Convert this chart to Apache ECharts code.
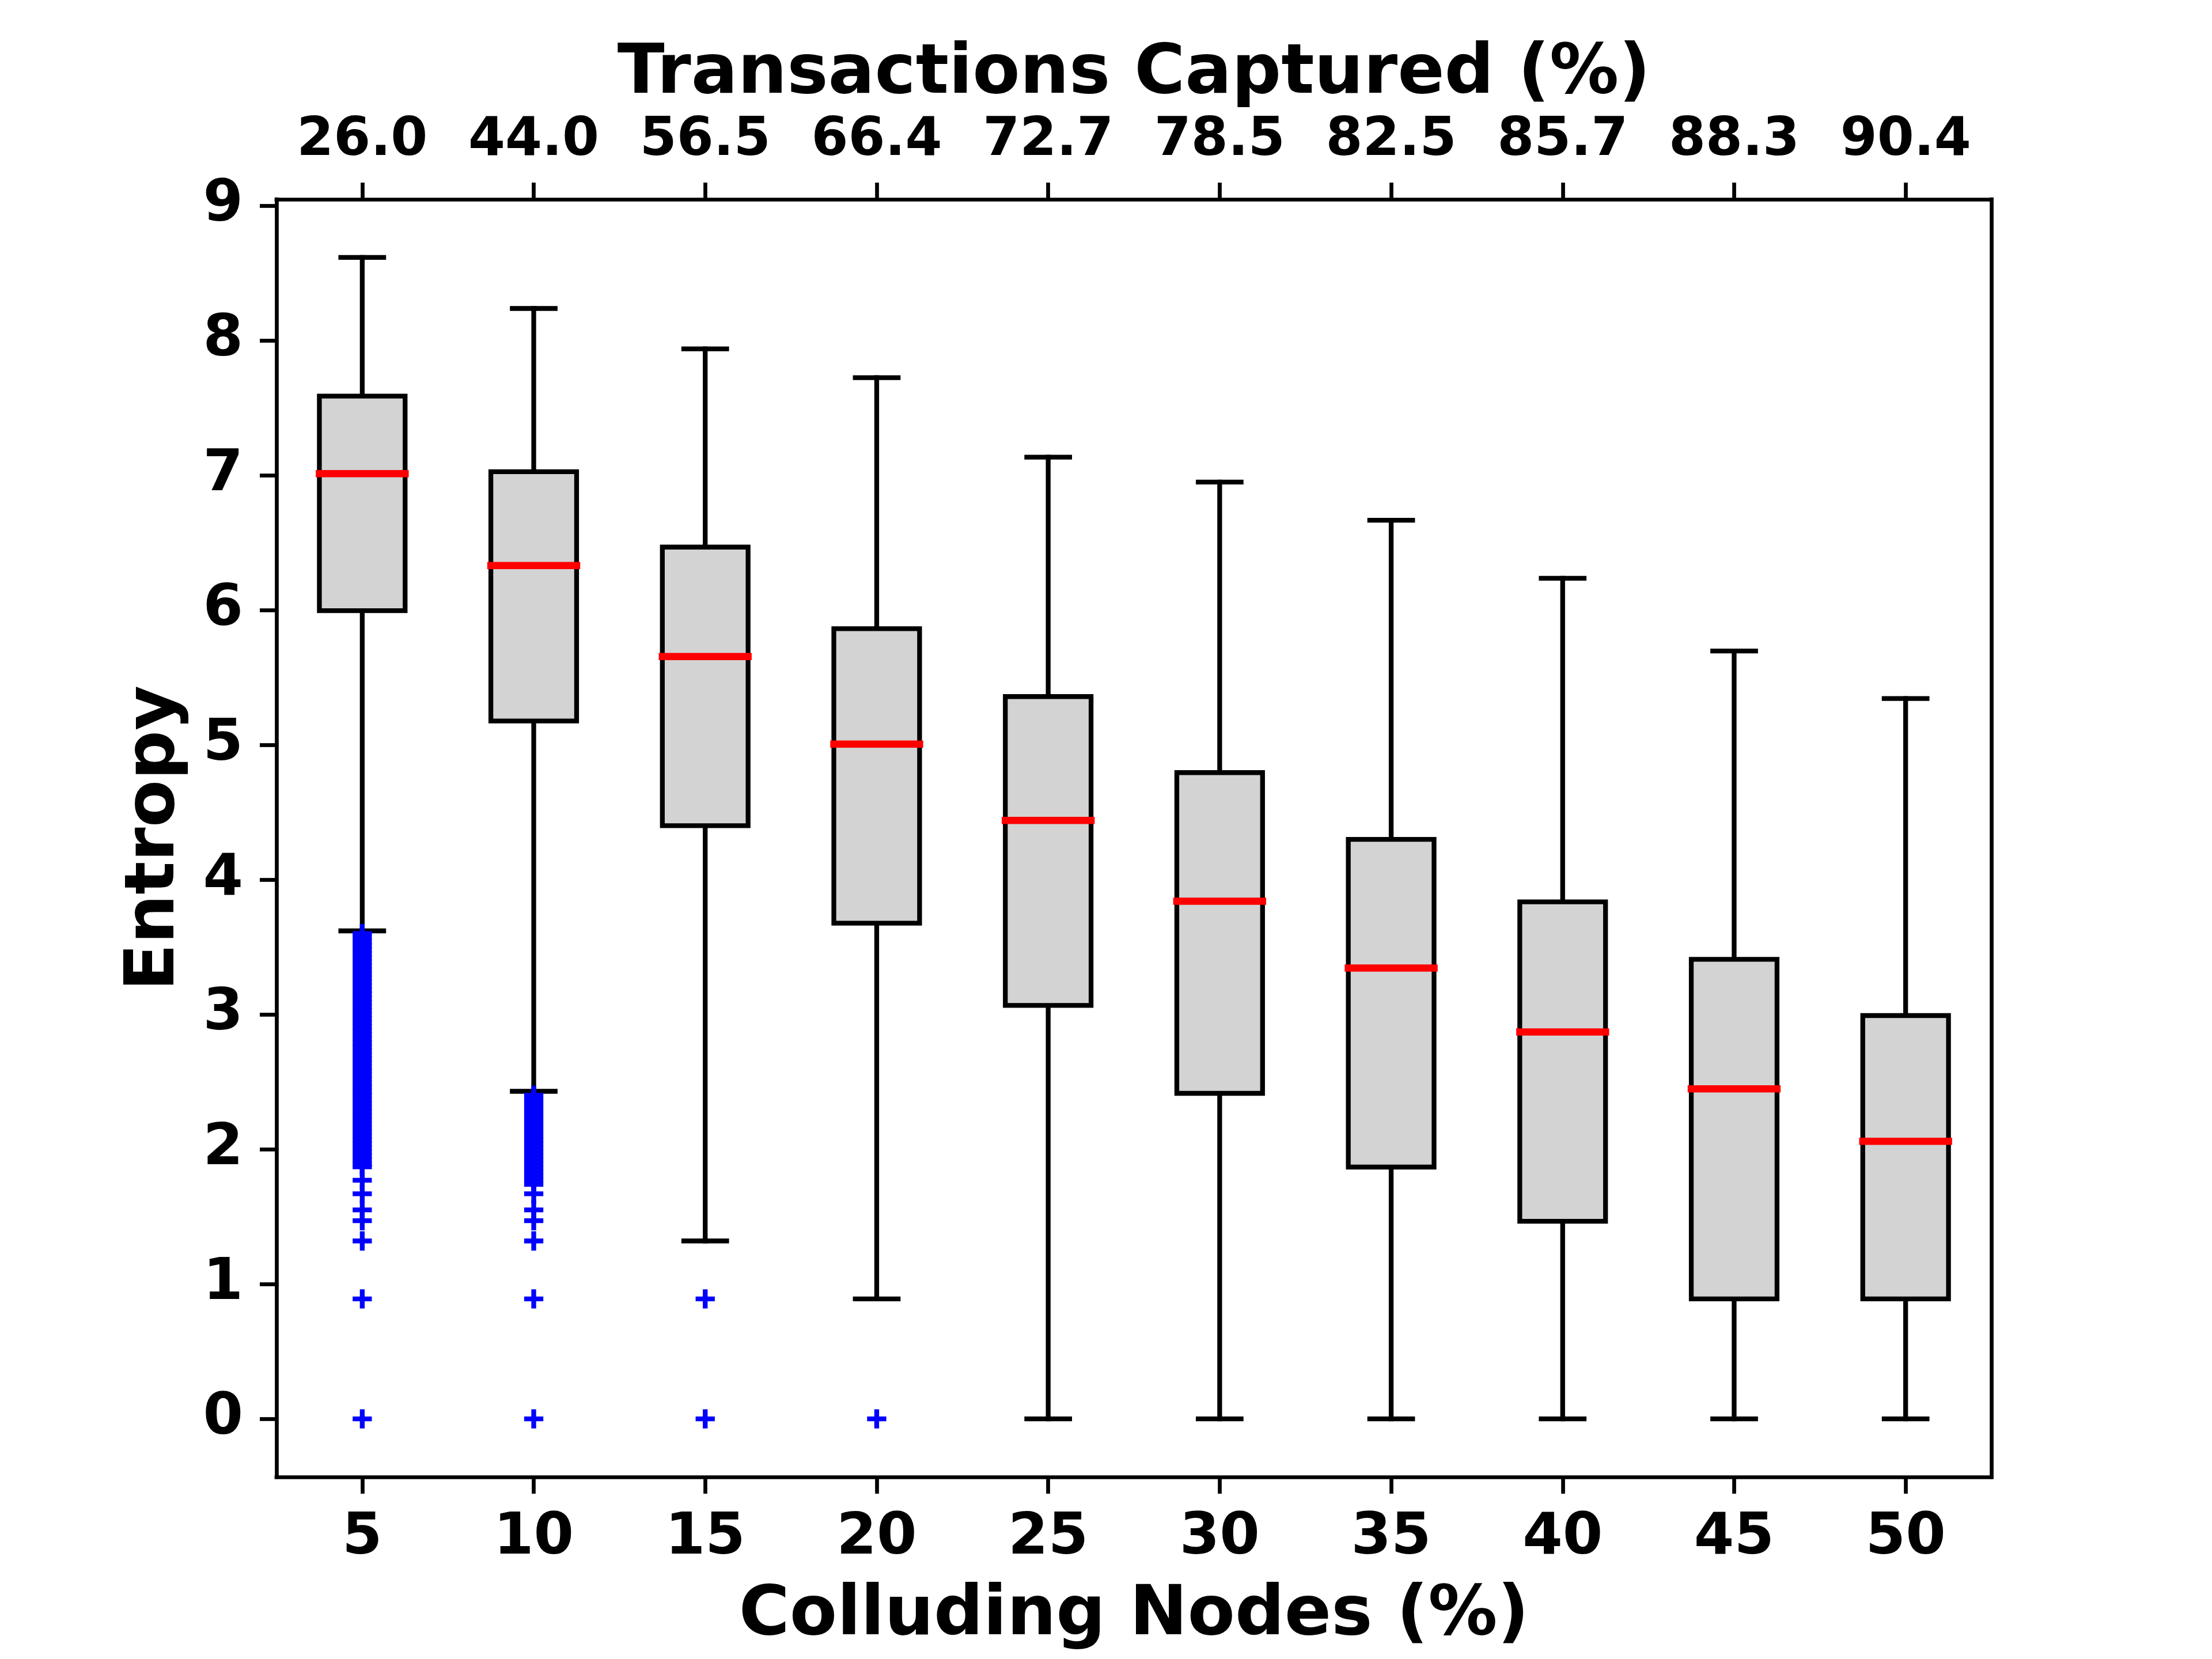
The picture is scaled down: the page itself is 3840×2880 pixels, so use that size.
<!DOCTYPE html>
<html>
<head>
<meta charset="UTF-8">
<title>Entropy vs colluding nodes</title>
<script src="https://cdn.jsdelivr.net/npm/echarts@6/dist/echarts.min.js"></script>
<style>
  html, body { margin: 0; padding: 0; background: #fff; }
  #chart { width: 3840px; height: 2880px; }
</style>
</head>
<body>
<div id="chart"></div>
<script>
// categories (bottom axis) and top-axis labels
var colluding = ['5', '10', '15', '20', '25', '30', '35', '40', '45', '50'];
var captured = ['26.0', '44.0', '56.5', '66.4', '72.7', '78.5', '82.5', '85.7', '88.3', '90.4'];

// box statistics
var whiskerLow  = [3.62, 2.43, 1.32, 0.89, 0, 0, 0, 0, 0, 0];
var q1          = [5.995, 5.177, 4.40, 3.677, 3.067, 2.415, 1.868, 1.466, 0.89, 0.89];
var median      = [7.012, 6.33, 5.655, 5.006, 4.439, 3.840, 3.344, 2.870, 2.448, 2.059];
var q3          = [7.587, 7.026, 6.467, 5.862, 5.358, 4.794, 4.299, 3.835, 3.409, 2.992];
var whiskerHigh = [8.616, 8.237, 7.937, 7.724, 7.134, 6.949, 6.666, 6.236, 5.696, 5.344];

// fliers (the dense band is many outliers stacked)
var fliers5 = [3.60, 3.57, 3.54, 3.51, 3.48, 3.45, 3.42, 3.39, 3.36, 3.33, 3.30, 3.27, 3.24, 3.21,
  3.18, 3.15, 3.12, 3.09, 3.06, 3.03, 3.00, 2.97, 2.94, 2.91, 2.88, 2.85, 2.82, 2.79, 2.76, 2.73,
  2.70, 2.67, 2.64, 2.61, 2.58, 2.55, 2.52, 2.49, 2.46, 2.43, 2.40, 2.37, 2.34, 2.31, 2.28, 2.25,
  2.22, 2.19, 2.16, 2.13, 2.10, 2.07, 2.04, 2.01, 1.98, 1.95, 1.92, 1.89, 1.87,
  1.77, 1.67, 1.55, 1.47, 1.32, 0.89, 0];
var fliers10 = [2.40, 2.37, 2.34, 2.31, 2.28, 2.25, 2.22, 2.19, 2.16, 2.13, 2.10, 2.07, 2.04, 2.01,
  1.98, 1.95, 1.92, 1.89, 1.86, 1.83, 1.80, 1.77, 1.74,
  1.67, 1.55, 1.47, 1.32, 0.89, 0];
var fliers15 = [0.89, 0];
var fliers20 = [0];

var yTicks = [0, 1, 2, 3, 4, 5, 6, 7, 8, 9];

var FONT = 'DejaVu Sans';
var boxData = colluding.map(function (c, i) {
  return [i, whiskerLow[i], q1[i], median[i], q3[i], whiskerHigh[i]];
});
var flierData = [];
[fliers5, fliers10, fliers15, fliers20].forEach(function (arr, i) {
  arr.forEach(function (v) { flierData.push([i, v]); });
});

function renderBox(params, api) {
  var x = api.value(0);
  var band = api.size([1, 0])[0];
  var hw = band * 0.25;      // box half width (width 0.5)
  var cw = band * 0.125;     // cap half width
  var lo = api.coord([x, api.value(1)]);
  var b1 = api.coord([x, api.value(2)]);
  var md = api.coord([x, api.value(3)]);
  var b3 = api.coord([x, api.value(4)]);
  var hi = api.coord([x, api.value(5)]);
  var cx = lo[0];
  var black = { stroke: '#000', lineWidth: 8.3, lineCap: 'square' };
  return {
    type: 'group',
    children: [
      { type: 'line', shape: { x1: cx, y1: b1[1], x2: cx, y2: lo[1] }, style: black },
      { type: 'line', shape: { x1: cx, y1: b3[1], x2: cx, y2: hi[1] }, style: black },
      { type: 'line', shape: { x1: cx - cw, y1: lo[1], x2: cx + cw, y2: lo[1] }, style: black },
      { type: 'line', shape: { x1: cx - cw, y1: hi[1], x2: cx + cw, y2: hi[1] }, style: black },
      { type: 'rect', shape: { x: cx - hw, y: b3[1], width: hw * 2, height: b1[1] - b3[1] },
        style: { fill: '#d3d3d3', stroke: '#000', lineWidth: 8.3, lineJoin: 'miter' } },
      { type: 'line', shape: { x1: cx - hw, y1: md[1], x2: cx + hw, y2: md[1] },
        style: { stroke: '#ff0000', lineWidth: 12.5, lineCap: 'square' } }
    ]
  };
}

var chart = echarts.init(document.getElementById('chart'), null, { renderer: 'canvas' });
var axisLineStyle = { color: '#000', width: 6.7, cap: 'square' };
var tickStyle = { color: '#000', width: 6.7 };
var nameStyle = { fontFamily: FONT, fontWeight: 'bold', fontSize: 120, lineHeight: 120, color: '#000' };

chart.setOption({
  animation: false,
  backgroundColor: '#fff',
  grid: { left: 480, right: 383, top: 346, bottom: 316 },
  xAxis: [{
    type: 'category',
    data: colluding,
    position: 'bottom',
    boundaryGap: true,
    axisLine: { show: true, onZero: false, lineStyle: axisLineStyle },
    axisTick: { show: true, alignWithLabel: true, length: 29, lineStyle: tickStyle },
    axisLabel: { fontFamily: FONT, fontWeight: 'bold', fontSize: 100, lineHeight: 100, color: '#000', margin: 57 },
    splitLine: { show: false },
    name: 'Colluding Nodes (%)',
    nameLocation: 'middle',
    nameGap: 182,
    nameTextStyle: nameStyle
  }, {
    type: 'category',
    data: captured,
    position: 'top',
    boundaryGap: true,
    axisLine: { show: true, onZero: false, lineStyle: axisLineStyle },
    axisTick: { show: true, alignWithLabel: true, length: 29, lineStyle: tickStyle },
    axisLabel: { fontFamily: FONT, fontWeight: 'bold', fontSize: 92, lineHeight: 92, color: '#000', margin: 55 },
    splitLine: { show: false },
    name: 'Transactions Captured (%)',
    nameLocation: 'middle',
    nameGap: 156,
    nameTextStyle: nameStyle
  }],
  yAxis: [{
    type: 'value',
    min: -0.4308,
    max: 9.0468,
    position: 'left',
    axisLine: { show: true, onZero: false, lineStyle: axisLineStyle },
    axisTick: { show: true, length: 29, lineStyle: tickStyle, customValues: yTicks },
    axisLabel: { fontFamily: FONT, fontWeight: 'bold', fontSize: 100, lineHeight: 100, color: '#000', margin: 58, customValues: yTicks },
    splitLine: { show: false },
    name: 'Entropy',
    nameLocation: 'middle',
    nameGap: 150,
    nameTextStyle: nameStyle
  }, {
    type: 'value',
    min: -0.4308,
    max: 9.0468,
    position: 'right',
    axisLine: { show: true, onZero: false, lineStyle: axisLineStyle },
    axisTick: { show: false },
    axisLabel: { show: false },
    splitLine: { show: false }
  }],
  series: [{
    type: 'custom',
    name: 'box',
    xAxisIndex: 0,
    yAxisIndex: 0,
    renderItem: renderBox,
    encode: { x: 0, y: [1, 2, 3, 4, 5] },
    data: boxData,
    z: 2
  }, {
    type: 'scatter',
    name: 'fliers',
    xAxisIndex: 0,
    yAxisIndex: 0,
    symbol: 'path://M3,0H5V3H8V5H5V8H3V5H0V3H3Z',
    symbolSize: 33.3,
    itemStyle: { color: '#0000ff', opacity: 1 },
    data: flierData,
    z: 3
  }]
});
</script>
</body>
</html>
